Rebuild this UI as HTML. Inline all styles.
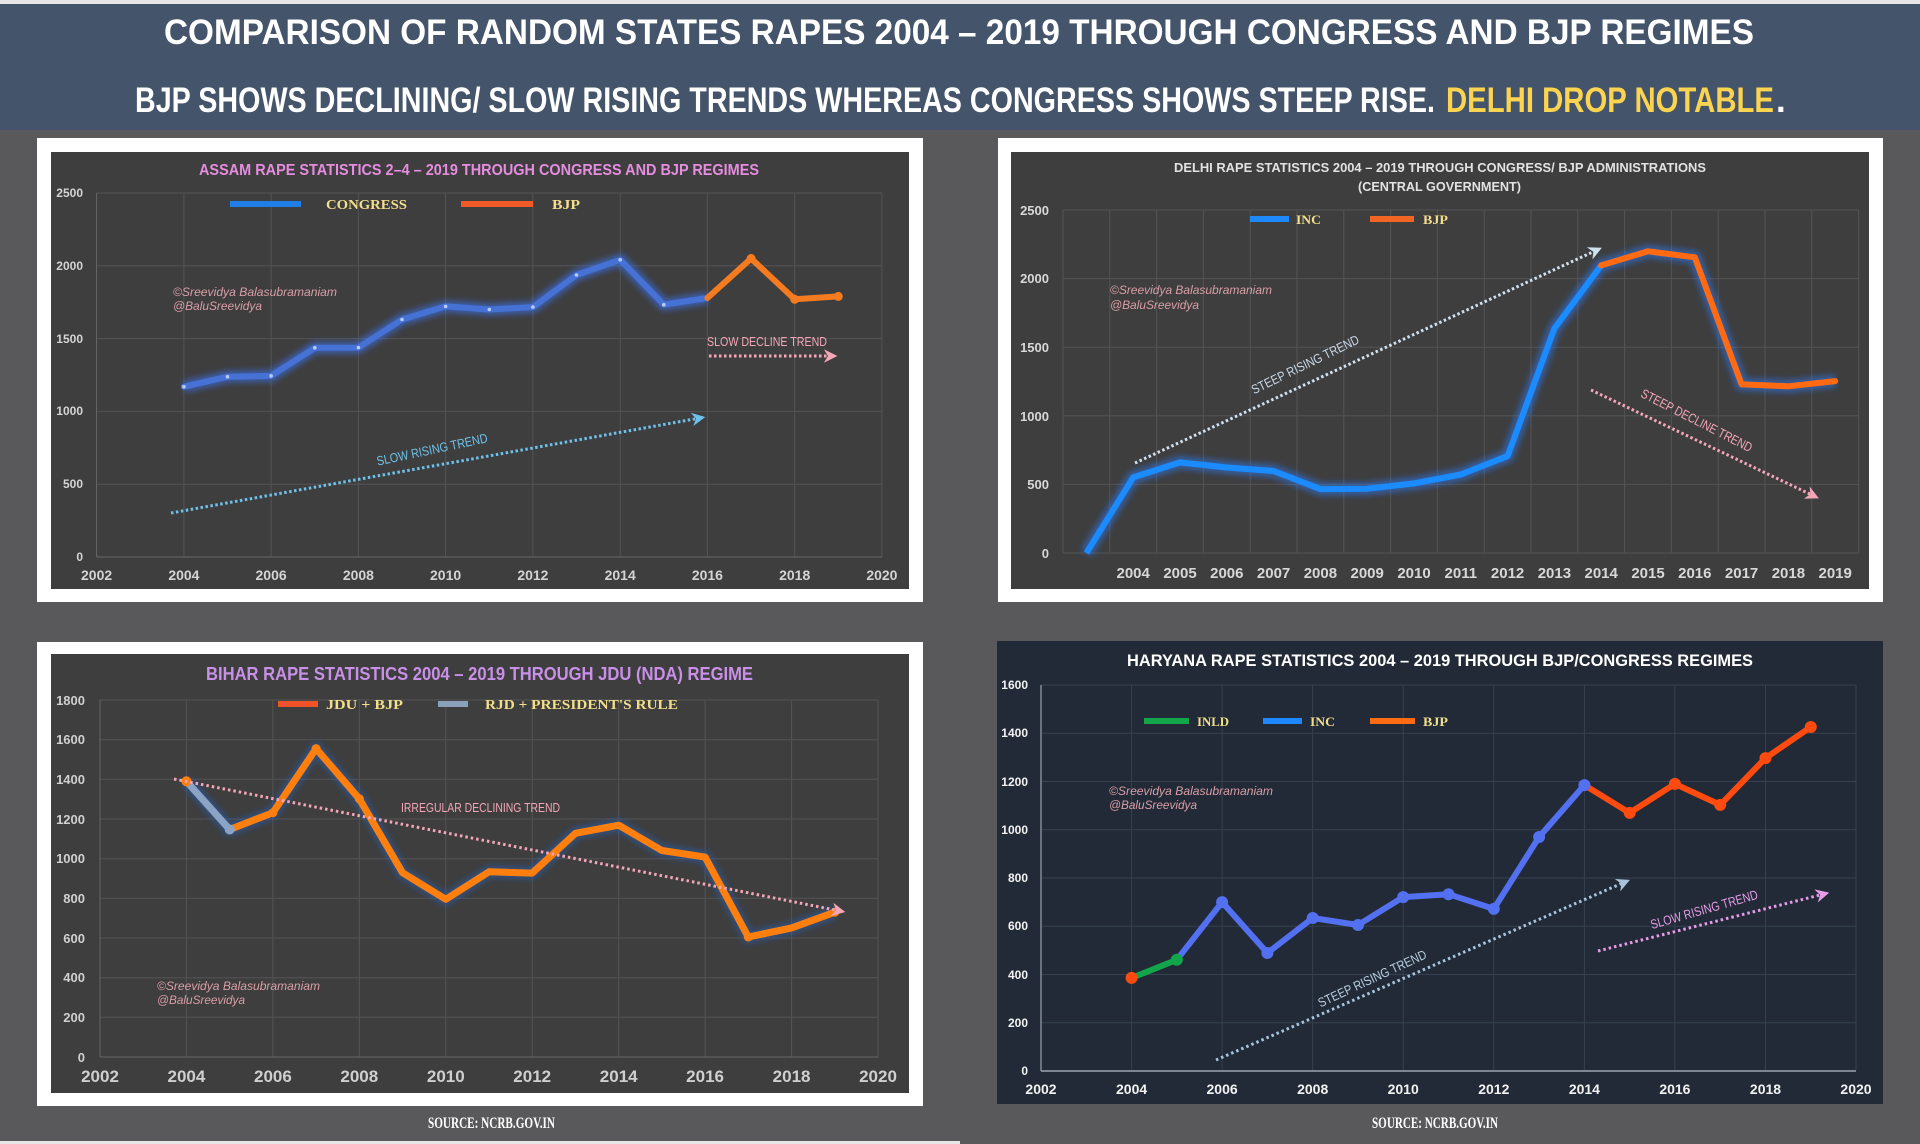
<!DOCTYPE html>
<html><head><meta charset="utf-8"><style>
html,body{margin:0;padding:0;background:#59595b;}
svg{display:block;}
text{font-family:"Liberation Sans",sans-serif;}
.t{font-weight:bold;}
.serif{font-family:"Liberation Serif",serif;font-weight:bold;}
.wm{font-style:italic;font-size:12px;fill:#d99ea6;}
.tr{font-size:13px;}
</style></head><body>
<svg width="1920" height="1144" viewBox="0 0 1920 1144" xmlns="http://www.w3.org/2000/svg">
<defs>
<filter id="glow" x="-20%" y="-20%" width="140%" height="140%"><feGaussianBlur stdDeviation="3"/></filter>
<marker id="mBlue" viewBox="0 0 10 10" refX="6" refY="5" markerWidth="4.5" markerHeight="4.5" orient="auto"><path d="M0,0 L10,5 L0,10 L3,5 z" fill="#6ec1ea"/></marker>
<marker id="mPink" viewBox="0 0 10 10" refX="6" refY="5" markerWidth="4.5" markerHeight="4.5" orient="auto"><path d="M0,0 L10,5 L0,10 L3,5 z" fill="#f4a6b8"/></marker>
<marker id="mLight" viewBox="0 0 10 10" refX="6" refY="5" markerWidth="4.5" markerHeight="4.5" orient="auto"><path d="M0,0 L10,5 L0,10 L3,5 z" fill="#cfe0ee"/></marker>
<marker id="mSteel" viewBox="0 0 10 10" refX="6" refY="5" markerWidth="4.5" markerHeight="4.5" orient="auto"><path d="M0,0 L10,5 L0,10 L3,5 z" fill="#a8c4dc"/></marker>
<marker id="mViolet" viewBox="0 0 10 10" refX="6" refY="5" markerWidth="4.5" markerHeight="4.5" orient="auto"><path d="M0,0 L10,5 L0,10 L3,5 z" fill="#e79ce9"/></marker>
</defs>

<!-- background -->
<rect x="0" y="0" width="1920" height="1144" fill="#59595b"/>
<rect x="0" y="0" width="1920" height="4" fill="#e6e6e6"/>
<rect x="0" y="4" width="1920" height="126" fill="#44546a"/>
<rect x="0" y="1141" width="960" height="3" fill="#e6e6e6"/>

<!-- header -->
<text class="t" x="164" y="44" font-size="35" fill="#ffffff" textLength="1590" lengthAdjust="spacingAndGlyphs">COMPARISON OF RANDOM STATES RAPES 2004 – 2019  THROUGH CONGRESS AND BJP REGIMES</text>
<text class="t" x="135" y="112" font-size="35" fill="#ffffff" textLength="1300" lengthAdjust="spacingAndGlyphs">BJP SHOWS DECLINING/ SLOW RISING TRENDS WHEREAS CONGRESS SHOWS STEEP RISE.</text>
<text class="t" x="1446" y="112" font-size="35" fill="#fcd450" textLength="328" lengthAdjust="spacingAndGlyphs">DELHI DROP NOTABLE</text>
<text class="t" x="1776" y="112" font-size="35" fill="#ffffff">.</text>

<!-- ================= ASSAM ================= -->
<rect x="37" y="138" width="886" height="464" fill="#ffffff"/>
<rect x="51" y="152" width="858" height="437" fill="#3e3e3f"/>
<g stroke="#545456" stroke-width="1">
<line x1="96.6" y1="484.2" x2="882" y2="484.2"/><line x1="96.6" y1="411.4" x2="882" y2="411.4"/><line x1="96.6" y1="338.6" x2="882" y2="338.6"/><line x1="96.6" y1="265.8" x2="882" y2="265.8"/><line x1="96.6" y1="193" x2="882" y2="193"/>
<line x1="183.9" y1="193" x2="183.9" y2="557"/><line x1="271.1" y1="193" x2="271.1" y2="557"/><line x1="358.4" y1="193" x2="358.4" y2="557"/><line x1="445.6" y1="193" x2="445.6" y2="557"/><line x1="532.9" y1="193" x2="532.9" y2="557"/><line x1="620.2" y1="193" x2="620.2" y2="557"/><line x1="707.4" y1="193" x2="707.4" y2="557"/><line x1="794.7" y1="193" x2="794.7" y2="557"/><line x1="881.9" y1="193" x2="881.9" y2="557"/>
</g>
<line x1="96.6" y1="193" x2="96.6" y2="557" stroke="#666" stroke-width="1"/>
<line x1="96.6" y1="557" x2="882" y2="557" stroke="#666" stroke-width="1"/>
<g class="t" font-size="12" fill="#d4d4d4" text-anchor="end">
<text x="83" y="561">0</text><text x="83" y="488">500</text><text x="83" y="415">1000</text><text x="83" y="343">1500</text><text x="83" y="270">2000</text><text x="83" y="197">2500</text>
</g>
<g class="t" font-size="14" fill="#d4d4d4" text-anchor="middle">
<text x="96.6" y="580">2002</text><text x="183.9" y="580">2004</text><text x="271.1" y="580">2006</text><text x="358.4" y="580">2008</text><text x="445.6" y="580">2010</text><text x="532.9" y="580">2012</text><text x="620.2" y="580">2014</text><text x="707.4" y="580">2016</text><text x="794.7" y="580">2018</text><text x="881.9" y="580">2020</text>
</g>
<text class="t" x="199" y="175" font-size="16" fill="#e68de0" textLength="560" lengthAdjust="spacingAndGlyphs">ASSAM RAPE STATISTICS 2–4 – 2019 THROUGH CONGRESS AND BJP REGIMES</text>
<line x1="230" y1="204" x2="301" y2="204" stroke="#1f7fe6" stroke-width="6"/>
<text class="serif" x="326" y="209" font-size="14" fill="#f3de8a" textLength="81" lengthAdjust="spacingAndGlyphs">CONGRESS</text>
<line x1="461" y1="204" x2="533" y2="204" stroke="#f05a28" stroke-width="6"/>
<text class="serif" x="552" y="209" font-size="14" fill="#f3de8a" textLength="28" lengthAdjust="spacingAndGlyphs">BJP</text>
<text class="wm" x="173" y="296" textLength="164" lengthAdjust="spacingAndGlyphs">©Sreevidya Balasubramaniam</text>
<text class="wm" x="173" y="310" textLength="89" lengthAdjust="spacingAndGlyphs">@BaluSreevidya</text>
<!-- trends -->
<line x1="171" y1="513" x2="700" y2="418" stroke="#6ec1ea" stroke-width="3" stroke-dasharray="2.5 2.5" marker-end="url(#mBlue)"/>
<text class="tr" transform="translate(432,449) rotate(-12)" x="0" y="5" text-anchor="middle" fill="#6ec1ea" textLength="113" lengthAdjust="spacingAndGlyphs">SLOW RISING TREND</text>
<line x1="709" y1="356" x2="832" y2="356" stroke="#f4a6b8" stroke-width="3" stroke-dasharray="2.5 2.5" marker-end="url(#mPink)"/>
<text class="tr" x="707" y="346" fill="#f4a6b8" textLength="120" lengthAdjust="spacingAndGlyphs">SLOW DECLINE TREND</text>
<!-- series -->
<polyline fill="none" stroke="#3a78ff" stroke-opacity="0.55" stroke-width="12" filter="url(#glow)" stroke-linejoin="round" points="183.9,386.7 227.5,376.7 271.1,375.9 314.8,347.8 358.4,347.6 402.0,319.5 445.6,306.4 489.3,309.5 532.9,307.1 576.5,275.0 620.2,259.8 663.8,304.7 707.4,298.0"/>
<polyline fill="none" stroke="#4672d6" stroke-width="6" stroke-linejoin="round" stroke-linecap="round" points="183.9,386.7 227.5,376.7 271.1,375.9 314.8,347.8 358.4,347.6 402.0,319.5 445.6,306.4 489.3,309.5 532.9,307.1 576.5,275.0 620.2,259.8 663.8,304.7 707.4,298.0"/>
<g fill="#b9cbf5">
<circle cx="183.9" cy="386.7" r="1.8"/><circle cx="227.5" cy="376.7" r="1.8"/><circle cx="271.1" cy="375.9" r="1.8"/><circle cx="314.8" cy="347.8" r="1.8"/><circle cx="358.4" cy="347.6" r="1.8"/><circle cx="402.0" cy="319.5" r="1.8"/><circle cx="445.6" cy="306.4" r="1.8"/><circle cx="489.3" cy="309.5" r="1.8"/><circle cx="532.9" cy="307.1" r="1.8"/><circle cx="576.5" cy="275.0" r="1.8"/><circle cx="620.2" cy="259.8" r="1.8"/><circle cx="663.8" cy="304.7" r="1.8"/><circle cx="707.4" cy="298.0" r="1.8"/>
</g>
<polyline fill="none" stroke="#f47b20" stroke-width="6" stroke-linejoin="round" stroke-linecap="round" points="707.4,298.0 751.1,258.5 794.7,299.3 838.3,296.4"/>
<g fill="#f47b20"><circle cx="751.1" cy="258.5" r="4.5"/><circle cx="794.7" cy="299.3" r="4.5"/><circle cx="838.3" cy="296.4" r="4.5"/></g>

<!-- ================= DELHI ================= -->
<rect x="998" y="138" width="885" height="464" fill="#ffffff"/>
<rect x="1011" y="152" width="858" height="437" fill="#3e3e3f"/>
<g stroke="#545456" stroke-width="1">
<line x1="1063" y1="553" x2="1858.6" y2="553"/><line x1="1063" y1="484.4" x2="1858.6" y2="484.4"/><line x1="1063" y1="415.8" x2="1858.6" y2="415.8"/><line x1="1063" y1="347.2" x2="1858.6" y2="347.2"/><line x1="1063" y1="278.6" x2="1858.6" y2="278.6"/><line x1="1063" y1="210" x2="1858.6" y2="210"/>
<line x1="1063" y1="210" x2="1063" y2="553"/><line x1="1109.8" y1="210" x2="1109.8" y2="553"/><line x1="1156.6" y1="210" x2="1156.6" y2="553"/><line x1="1203.4" y1="210" x2="1203.4" y2="553"/><line x1="1250.2" y1="210" x2="1250.2" y2="553"/><line x1="1297" y1="210" x2="1297" y2="553"/><line x1="1343.8" y1="210" x2="1343.8" y2="553"/><line x1="1390.6" y1="210" x2="1390.6" y2="553"/><line x1="1437.4" y1="210" x2="1437.4" y2="553"/><line x1="1484.2" y1="210" x2="1484.2" y2="553"/><line x1="1531" y1="210" x2="1531" y2="553"/><line x1="1577.8" y1="210" x2="1577.8" y2="553"/><line x1="1624.6" y1="210" x2="1624.6" y2="553"/><line x1="1671.4" y1="210" x2="1671.4" y2="553"/><line x1="1718.2" y1="210" x2="1718.2" y2="553"/><line x1="1765" y1="210" x2="1765" y2="553"/><line x1="1811.8" y1="210" x2="1811.8" y2="553"/><line x1="1858.6" y1="210" x2="1858.6" y2="553"/>
</g>
<g class="t" font-size="13" fill="#d8d8d8" text-anchor="end">
<text x="1049" y="558">0</text><text x="1049" y="489">500</text><text x="1049" y="421">1000</text><text x="1049" y="352">1500</text><text x="1049" y="283">2000</text><text x="1049" y="215">2500</text>
</g>
<g class="t" font-size="15" fill="#d8d8d8" text-anchor="middle">
<text x="1133.2" y="578">2004</text><text x="1180.0" y="578">2005</text><text x="1226.8" y="578">2006</text><text x="1273.6" y="578">2007</text><text x="1320.4" y="578">2008</text><text x="1367.2" y="578">2009</text><text x="1414.0" y="578">2010</text><text x="1460.8" y="578">2011</text><text x="1507.6" y="578">2012</text><text x="1554.4" y="578">2013</text><text x="1601.2" y="578">2014</text><text x="1648.0" y="578">2015</text><text x="1694.8" y="578">2016</text><text x="1741.6" y="578">2017</text><text x="1788.4" y="578">2018</text><text x="1835.2" y="578">2019</text>
</g>
<text class="t" x="1174" y="172" font-size="13" fill="#e2e2e2" textLength="532" lengthAdjust="spacingAndGlyphs">DELHI RAPE STATISTICS 2004 – 2019 THROUGH CONGRESS/ BJP ADMINISTRATIONS</text>
<text class="t" x="1358" y="191" font-size="13" fill="#e2e2e2" textLength="163" lengthAdjust="spacingAndGlyphs">(CENTRAL GOVERNMENT)</text>
<line x1="1250" y1="219" x2="1289" y2="219" stroke="#1e88ff" stroke-width="6"/>
<text class="serif" x="1296" y="224" font-size="13" fill="#f3de8a" textLength="25" lengthAdjust="spacingAndGlyphs">INC</text>
<line x1="1370" y1="219" x2="1414" y2="219" stroke="#f26522" stroke-width="6"/>
<text class="serif" x="1423" y="224" font-size="13" fill="#f3de8a" textLength="25" lengthAdjust="spacingAndGlyphs">BJP</text>
<text class="wm" x="1110" y="294" textLength="162" lengthAdjust="spacingAndGlyphs">©Sreevidya Balasubramaniam</text>
<text class="wm" x="1110" y="309" textLength="89" lengthAdjust="spacingAndGlyphs">@BaluSreevidya</text>
<line x1="1135" y1="463" x2="1597" y2="250" stroke="#cfe0ee" stroke-width="3" stroke-dasharray="2.5 2.5" marker-end="url(#mLight)"/>
<text class="tr" transform="translate(1305,364) rotate(-26)" x="0" y="5" text-anchor="middle" fill="#c8d8e8" textLength="118" lengthAdjust="spacingAndGlyphs">STEEP RISING TREND</text>
<line x1="1591" y1="390" x2="1814" y2="496" stroke="#f4a6b8" stroke-width="3" stroke-dasharray="2.5 2.5" marker-end="url(#mPink)"/>
<text class="tr" transform="translate(1697,420) rotate(27)" x="0" y="5" text-anchor="middle" fill="#f4a6b8" textLength="123" lengthAdjust="spacingAndGlyphs">STEEP DECLINE TREND</text>
<polyline fill="none" stroke="#2a7cff" stroke-opacity="0.5" stroke-width="13" filter="url(#glow)" stroke-linejoin="round" points="1086.4,553 1133.2,477.4 1180.0,462.4 1226.8,467.5 1273.6,471.0 1320.4,489.1 1367.2,488.7 1414.0,483.4 1460.8,474.5 1507.6,456.1 1554.4,328.5 1601.2,265.4 1648.0,251.3 1694.8,257.3 1741.6,384.4 1788.4,386.3 1835.2,381.1"/>
<polyline fill="none" stroke="#1a8cff" stroke-width="6" stroke-linejoin="round" points="1086.4,553 1133.2,477.4 1180.0,462.4 1226.8,467.5 1273.6,471.0 1320.4,489.1 1367.2,488.7 1414.0,483.4 1460.8,474.5 1507.6,456.1 1554.4,328.5 1601.2,265.4"/>
<polyline fill="none" stroke="#ff6a13" stroke-width="6" stroke-linejoin="round" stroke-linecap="round" points="1601.2,265.4 1648.0,251.3 1694.8,257.3 1741.6,384.4 1788.4,386.3 1835.2,381.1"/>

<!-- ================= BIHAR ================= -->
<rect x="37" y="642" width="886" height="464" fill="#ffffff"/>
<rect x="51" y="654" width="858" height="439" fill="#3e3e3f"/>
<g stroke="#545456" stroke-width="1">
<line x1="100" y1="1017.3" x2="878" y2="1017.3"/><line x1="100" y1="977.7" x2="878" y2="977.7"/><line x1="100" y1="938.0" x2="878" y2="938.0"/><line x1="100" y1="898.3" x2="878" y2="898.3"/><line x1="100" y1="858.7" x2="878" y2="858.7"/><line x1="100" y1="819.0" x2="878" y2="819.0"/><line x1="100" y1="779.3" x2="878" y2="779.3"/><line x1="100" y1="739.7" x2="878" y2="739.7"/><line x1="100" y1="700" x2="878" y2="700"/>
<line x1="186.4" y1="700" x2="186.4" y2="1057"/><line x1="272.9" y1="700" x2="272.9" y2="1057"/><line x1="359.3" y1="700" x2="359.3" y2="1057"/><line x1="445.8" y1="700" x2="445.8" y2="1057"/><line x1="532.2" y1="700" x2="532.2" y2="1057"/><line x1="618.7" y1="700" x2="618.7" y2="1057"/><line x1="705.1" y1="700" x2="705.1" y2="1057"/><line x1="791.6" y1="700" x2="791.6" y2="1057"/><line x1="878" y1="700" x2="878" y2="1057"/>
</g>
<line x1="100" y1="700" x2="100" y2="1057" stroke="#666" stroke-width="1"/>
<line x1="100" y1="1057" x2="878" y2="1057" stroke="#666" stroke-width="1"/>
<g class="t" font-size="13" fill="#d0d0d0" text-anchor="end">
<text x="85" y="1062">0</text><text x="85" y="1022">200</text><text x="85" y="982">400</text><text x="85" y="943">600</text><text x="85" y="903">800</text><text x="85" y="863">1000</text><text x="85" y="824">1200</text><text x="85" y="784">1400</text><text x="85" y="744">1600</text><text x="85" y="705">1800</text>
</g>
<g class="t" font-size="17" fill="#cfcfcf" text-anchor="middle">
<text x="100" y="1082">2002</text><text x="186.4" y="1082">2004</text><text x="272.9" y="1082">2006</text><text x="359.3" y="1082">2008</text><text x="445.8" y="1082">2010</text><text x="532.2" y="1082">2012</text><text x="618.7" y="1082">2014</text><text x="705.1" y="1082">2016</text><text x="791.6" y="1082">2018</text><text x="878" y="1082">2020</text>
</g>
<text class="t" x="206" y="680" font-size="18" fill="#c990e8" textLength="547" lengthAdjust="spacingAndGlyphs">BIHAR RAPE STATISTICS 2004 – 2019 THROUGH JDU (NDA) REGIME</text>
<line x1="278" y1="704" x2="318" y2="704" stroke="#f0522a" stroke-width="6"/>
<text class="serif" x="326" y="709" font-size="14" fill="#f3de8a" textLength="77" lengthAdjust="spacingAndGlyphs">JDU + BJP</text>
<line x1="438" y1="704" x2="468" y2="704" stroke="#8aa0bb" stroke-width="6"/>
<text class="serif" x="485" y="709" font-size="14" fill="#f3de8a" textLength="193" lengthAdjust="spacingAndGlyphs">RJD + PRESIDENT'S RULE</text>
<text class="tr" x="401" y="812" fill="#f4a6b8" textLength="159" lengthAdjust="spacingAndGlyphs">IRREGULAR DECLINING TREND</text>
<text class="wm" x="157" y="990" font-size="13" textLength="163" lengthAdjust="spacingAndGlyphs">©Sreevidya Balasubramaniam</text>
<text class="wm" x="157" y="1004" font-size="13" textLength="88" lengthAdjust="spacingAndGlyphs">@BaluSreevidya</text>
<polyline fill="none" stroke="#2a5db0" stroke-opacity="0.6" stroke-width="12" filter="url(#glow)" stroke-linejoin="round" points="186.4,781.3 229.7,829.5 272.9,812.7 316.1,748.6 359.3,798.8 402.5,872.7 445.8,899.3 489.0,871.8 532.2,873.1 575.5,833.3 618.7,825.2 661.9,850.5 705.1,857.1 748.3,937.0 791.6,927.9 834.8,912.2"/>
<polyline fill="none" stroke="#8ba3c4" stroke-width="7" stroke-linecap="round" points="186.4,781.3 229.7,829.5"/>
<polyline fill="none" stroke="#ff7f0e" stroke-width="7" stroke-linejoin="round" stroke-linecap="round" points="229.7,829.5 272.9,812.7 316.1,748.6 359.3,798.8 402.5,872.7 445.8,899.3 489.0,871.8 532.2,873.1 575.5,833.3 618.7,825.2 661.9,850.5 705.1,857.1 748.3,937.0 791.6,927.9 834.8,912.2"/>
<circle cx="186.4" cy="781.3" r="5" fill="#ff7f0e"/>
<circle cx="229.7" cy="829.5" r="5" fill="#8ba3c4"/>
<g fill="#ff7f0e"><circle cx="316.1" cy="748.6" r="4.5"/><circle cx="359.3" cy="798.8" r="4.5"/><circle cx="272.9" cy="812.7" r="4.5"/><circle cx="748.3" cy="937.0" r="4.5"/><circle cx="834.8" cy="912.2" r="4.5"/></g>
<line x1="174" y1="779" x2="840" y2="911" stroke="#f4a6b8" stroke-width="3" stroke-dasharray="2.5 3" marker-end="url(#mPink)"/>
<text class="serif" x="428" y="1128" font-size="16" fill="#ffffff" font-weight="normal" textLength="127" lengthAdjust="spacingAndGlyphs">SOURCE: NCRB.GOV.IN</text>

<!-- ================= HARYANA ================= -->
<rect x="997" y="641" width="886" height="463" fill="#212a36"/>
<g stroke="#364251" stroke-width="1">
<line x1="1041" y1="1022.75" x2="1856" y2="1022.75"/><line x1="1041" y1="974.5" x2="1856" y2="974.5"/><line x1="1041" y1="926.25" x2="1856" y2="926.25"/><line x1="1041" y1="878" x2="1856" y2="878"/><line x1="1041" y1="829.75" x2="1856" y2="829.75"/><line x1="1041" y1="781.5" x2="1856" y2="781.5"/><line x1="1041" y1="733.25" x2="1856" y2="733.25"/><line x1="1041" y1="685" x2="1856" y2="685"/>
<line x1="1131.6" y1="685" x2="1131.6" y2="1071"/><line x1="1222.1" y1="685" x2="1222.1" y2="1071"/><line x1="1312.7" y1="685" x2="1312.7" y2="1071"/><line x1="1403.2" y1="685" x2="1403.2" y2="1071"/><line x1="1493.8" y1="685" x2="1493.8" y2="1071"/><line x1="1584.4" y1="685" x2="1584.4" y2="1071"/><line x1="1674.9" y1="685" x2="1674.9" y2="1071"/><line x1="1765.5" y1="685" x2="1765.5" y2="1071"/><line x1="1856" y1="685" x2="1856" y2="1071"/>
</g>
<line x1="1041" y1="685" x2="1041" y2="1071" stroke="#7f8b9b" stroke-width="1.5"/>
<line x1="1041" y1="1071" x2="1856" y2="1071" stroke="#9aa5b4" stroke-width="1.5"/>
<g class="t" font-size="12" fill="#f2f2f2" text-anchor="end">
<text x="1028" y="1075">0</text><text x="1028" y="1027">200</text><text x="1028" y="979">400</text><text x="1028" y="930">600</text><text x="1028" y="882">800</text><text x="1028" y="834">1000</text><text x="1028" y="786">1200</text><text x="1028" y="737">1400</text><text x="1028" y="689">1600</text>
</g>
<g class="t" font-size="14" fill="#f2f2f2" text-anchor="middle">
<text x="1041" y="1094">2002</text><text x="1131.6" y="1094">2004</text><text x="1222.1" y="1094">2006</text><text x="1312.7" y="1094">2008</text><text x="1403.2" y="1094">2010</text><text x="1493.8" y="1094">2012</text><text x="1584.4" y="1094">2014</text><text x="1674.9" y="1094">2016</text><text x="1765.5" y="1094">2018</text><text x="1856" y="1094">2020</text>
</g>
<text class="t" x="1127" y="666" font-size="17" fill="#ffffff" textLength="626" lengthAdjust="spacingAndGlyphs">HARYANA RAPE STATISTICS 2004 – 2019 THROUGH BJP/CONGRESS REGIMES</text>
<line x1="1144" y1="721" x2="1189" y2="721" stroke="#13a54a" stroke-width="6"/>
<text class="serif" x="1197" y="726" font-size="13" fill="#f3de8a" textLength="32" lengthAdjust="spacingAndGlyphs">INLD</text>
<line x1="1263" y1="721" x2="1302" y2="721" stroke="#1e88ff" stroke-width="6"/>
<text class="serif" x="1310" y="726" font-size="13" fill="#f3de8a" textLength="25" lengthAdjust="spacingAndGlyphs">INC</text>
<line x1="1370" y1="721" x2="1415" y2="721" stroke="#ff6a13" stroke-width="6"/>
<text class="serif" x="1423" y="726" font-size="13" fill="#f3de8a" textLength="25" lengthAdjust="spacingAndGlyphs">BJP</text>
<text class="wm" x="1109" y="795" textLength="164" lengthAdjust="spacingAndGlyphs">©Sreevidya Balasubramaniam</text>
<text class="wm" x="1109" y="809" textLength="88" lengthAdjust="spacingAndGlyphs">@BaluSreevidya</text>
<line x1="1216" y1="1060" x2="1625" y2="882" stroke="#a8c4dc" stroke-width="3" stroke-dasharray="2.5 3" marker-end="url(#mSteel)"/>
<text class="tr" transform="translate(1372,978) rotate(-25)" x="0" y="5" text-anchor="middle" fill="#b8cce0" textLength="118" lengthAdjust="spacingAndGlyphs">STEEP RISING TREND</text>
<line x1="1598" y1="951" x2="1824" y2="894" stroke="#e79ce9" stroke-width="3" stroke-dasharray="2.5 3" marker-end="url(#mViolet)"/>
<text class="tr" transform="translate(1704,909) rotate(-16)" x="0" y="5" text-anchor="middle" fill="#e79ce9" textLength="111" lengthAdjust="spacingAndGlyphs">SLOW RISING TREND</text>
<polyline fill="none" stroke="#13a54a" stroke-width="6" stroke-linecap="round" points="1131.6,977.9 1176.8,959.8"/>
<polyline fill="none" stroke="#5270f0" stroke-width="6" stroke-linejoin="round" points="1176.8,959.8 1222.1,902.1 1267.4,953.0 1312.7,918.0 1358.0,925.0 1403.2,897.1 1448.5,894.2 1493.8,908.9 1539.1,837.0 1584.4,785.1"/>
<polyline fill="none" stroke="#ff4a10" stroke-width="6" stroke-linejoin="round" points="1584.4,785.1 1629.7,812.9 1674.9,783.9 1720.2,804.9 1765.5,758.1 1810.8,727.0"/>
<circle cx="1131.6" cy="977.9" r="6" fill="#ff4a10"/>
<circle cx="1176.8" cy="959.8" r="6" fill="#13a54a"/>
<g fill="#5270f0"><circle cx="1222.1" cy="902.1" r="6"/><circle cx="1267.4" cy="953.0" r="6"/><circle cx="1312.7" cy="918.0" r="6"/><circle cx="1358.0" cy="925.0" r="6"/><circle cx="1403.2" cy="897.1" r="6"/><circle cx="1448.5" cy="894.2" r="6"/><circle cx="1493.8" cy="908.9" r="6"/><circle cx="1539.1" cy="837.0" r="6"/><circle cx="1584.4" cy="785.1" r="6"/></g>
<g fill="#ff4a10"><circle cx="1629.7" cy="812.9" r="6"/><circle cx="1674.9" cy="783.9" r="6"/><circle cx="1720.2" cy="804.9" r="6"/><circle cx="1765.5" cy="758.1" r="6"/><circle cx="1810.8" cy="727.0" r="6"/></g>
<text class="serif" x="1372" y="1128" font-size="16" fill="#ffffff" font-weight="normal" textLength="126" lengthAdjust="spacingAndGlyphs">SOURCE: NCRB.GOV.IN</text>
</svg>
</body></html>
